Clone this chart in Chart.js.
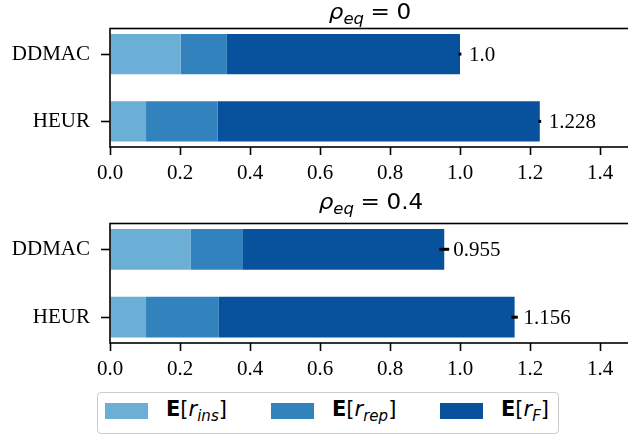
<!DOCTYPE html>
<html>
<head>
<meta charset="utf-8">
<script src="https://cdn.jsdelivr.net/npm/chart.js@4/dist/chart.umd.min.js"></script>
<style>
  html, body { margin:0; padding:0; background:#fff; overflow:hidden; width:628px; height:438px; }
  #wrap { position:relative; width:628px; height:438px; overflow:hidden; }
  canvas { position:absolute; left:0; }
  .title { position:absolute; font-family:'DejaVu Sans'; font-size:21px; color:#000; white-space:nowrap; transform:translateX(-50%) scaleX(1.1); line-height:1; }
  .title sub { font-size:15px; vertical-align:-5px; font-style:italic; }
  .title .eq { margin:0 6px; }
  #legend { position:absolute; left:97px; top:392px; width:460px; height:40px; border:1.5px solid #cccccc; border-radius:4px; background:#fff; }
  .patch { position:absolute; top:10px; width:43px; height:16px; }
  .ltxt { position:absolute; top:6px; font-family:'DejaVu Sans'; font-size:21px; line-height:1; white-space:nowrap; color:#000; }
  .ltxt sub { font-size:15px; vertical-align:-5px; font-style:italic; }
</style>
</head>
<body>
<div id="wrap">
  <canvas id="c1" width="635" height="192" style="top:0px"></canvas>
  <canvas id="c2" width="635" height="196" style="top:192px"></canvas>
  <div class="title" style="left:370px; top:2px;"><i>ρ</i><sub>eq</sub><span class="eq">=</span>0</div>
  <div class="title" style="left:371px; top:192px;"><i>ρ</i><sub>eq</sub><span class="eq">=</span>0.4</div>
  <div id="legend">
    <div class="patch" style="left:7px; background:#6baed6"></div>
    <div class="ltxt" style="left:68px"><b>E</b>[<i>r</i><sub>ins</sub>]</div>
    <div class="patch" style="left:173px; background:#3182bd"></div>
    <div class="ltxt" style="left:234px"><b>E</b>[<i>r</i><sub>rep</sub>]</div>
    <div class="patch" style="left:342px; background:#08519c"></div>
    <div class="ltxt" style="left:403px"><b>E</b>[<i>r</i><sub>F</sub>]</div>
  </div>
</div>
<script>
// ---- data ----
const categories = ['DDMAC', 'HEUR'];
const xTickMax = 1.5;

const insRho0   = [0.202, 0.103];
const repRho0   = [0.132, 0.205];
const totalRho0 = [1.0, 1.228];
const errRho0   = [0.004, 0.004];
const labelsRho0 = ['1.0', '1.228'];

const insRho04   = [0.231, 0.103];
const repRho04   = [0.149, 0.208];
const totalRho04 = [0.955, 1.156];
const errRho04   = [0.014, 0.009];
const labelsRho04 = ['0.955', '1.156'];

const colors = ['#6baed6', '#3182bd', '#08519c'];

function makeChart(id, ins, rep, total, err, valueLabels, padTop) {
  const fRest = total.map((t, i) => t - ins[i] - rep[i]);
  const toPts = arr => arr.map((v, i) => ({x: v, y: i}));
  const overlay = {
    id: 'overlay_' + id,
    afterDatasetsDraw(chart) {
      const {ctx, chartArea: a, scales: {x, y}} = chart;
      ctx.save();
      ctx.strokeStyle = '#000';
      ctx.fillStyle = '#000';
      ctx.font = '21px "Liberation Serif"';
      ctx.textBaseline = 'middle';
      ctx.textAlign = 'left';
      total.forEach((t, i) => {
        const yc = y.getPixelForValue(i);
        ctx.lineWidth = 3;
        ctx.beginPath();
        ctx.moveTo(x.getPixelForValue(t - err[i]), yc);
        ctx.lineTo(x.getPixelForValue(t + err[i]), yc);
        ctx.stroke();
        ctx.fillText(valueLabels[i], x.getPixelForValue(t) + 9, yc + 1);
      });
      ctx.lineWidth = 1.6;
      ctx.strokeRect(a.left, a.top, a.right - a.left, a.bottom - a.top);
      ctx.restore();
    }
  };
  return new Chart(document.getElementById(id), {
    type: 'bar',
    data: {
      datasets: [
        {label: 'ins', data: toPts(ins), backgroundColor: colors[0]},
        {label: 'rep', data: toPts(rep), backgroundColor: colors[1]},
        {label: 'F', data: toPts(fRest), backgroundColor: colors[2]}
      ]
    },
    options: {
      indexAxis: 'y',
      animation: false,
      responsive: false,
      maintainAspectRatio: false,
      devicePixelRatio: 1,
      barPercentage: 0.6,
      categoryPercentage: 1.0,
      layout: {padding: {top: padTop, bottom: 0, left: 0, right: 0}},
      plugins: {legend: {display: false}, tooltip: {enabled: false}, title: {display: false}},
      scales: {
        x: {
          type: 'linear', min: 0, max: xTickMax, stacked: true, offset: false,
          ticks: {stepSize: 0.2, includeBounds: false, color: '#000', padding: 6,
                  font: {size: 21, family: 'Liberation Serif'}, maxRotation: 0, autoSkip: false,
                  callback: v => Number(v).toFixed(1)},
          grid: {offset: false, drawOnChartArea: false, drawTicks: true, tickLength: 8, tickColor: '#000', tickWidth: 1.6},
          border: {display: false},
          afterFit: s => { s.height = 45; }
        },
        y: {
          type: 'linear', min: -0.38, max: 1.38, reverse: true, stacked: true, offset: false,
          afterBuildTicks: s => { s.ticks = categories.map((c, i) => ({value: i})); },
          ticks: {color: '#000', padding: 11, font: {size: 21, family: 'Liberation Serif'},
                  autoSkip: false, callback: v => categories[v]},
          grid: {offset: false, drawOnChartArea: false, drawTicks: true, tickLength: 9, tickColor: '#000', tickWidth: 1.6},
          border: {display: false},
          afterFit: s => { s.width = 110; }
        }
      }
    },
    plugins: [overlay]
  });
}

makeChart('c1', insRho0, repRho0, totalRho0, errRho0, labelsRho0, 28.5);
makeChart('c2', insRho04, repRho04, totalRho04, errRho04, labelsRho04, 31.5);
</script>
</body>
</html>
